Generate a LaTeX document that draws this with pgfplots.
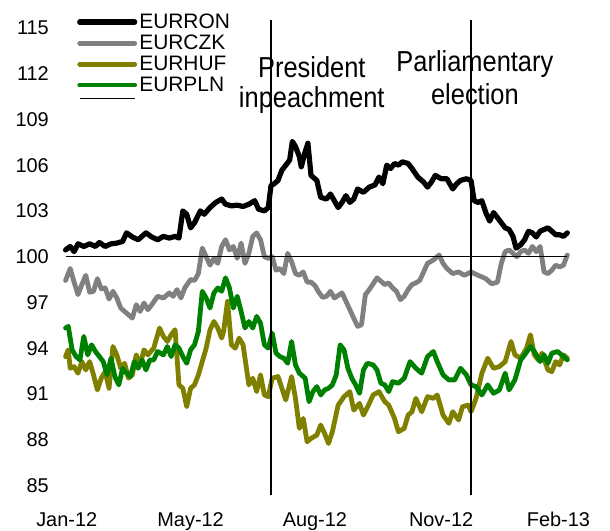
\documentclass[border=0pt]{standalone}
\usepackage{pgfplots}
\pgfplotsset{compat=1.18}
\usepackage{pgfplotstable}
\usepackage{fontspec}
\setmainfont{Liberation Sans}

\definecolor{czk}{RGB}{128,128,128}
\definecolor{huf}{RGB}{128,128,0}
\definecolor{pln}{RGB}{0,128,0}

% x = position along the time axis (category index scale), y = index value
\pgfplotstableread{
x y
168 100.44
180 100.67
190 100.33
200 100.84
215 100.67
230 100.84
245 100.67
255 100.93
270 100.67
285 100.84
300 100.89
315 101.00
325 101.56
340 101.29
355 101.11
375 101.56
390 101.29
405 101.11
420 101.33
435 101.22
450 101.33
460 101.22
470 103.00
480 102.78
490 101.89
500 102.22
515 103.00
525 102.78
540 103.22
555 103.56
570 103.78
580 103.44
595 103.33
610 103.38
625 103.29
640 103.44
655 103.67
665 103.11
680 103.00
690 103.22
697 104.67
705 104.78
715 105.00
725 105.67
735 106.00
745 106.33
752 107.56
760 107.22
770 106.56
775 105.89
785 106.89
792 107.44
800 105.33
815 105.00
825 103.89
840 103.78
850 104.11
860 103.67
870 103.22
880 103.56
890 104.00
900 103.56
910 103.78
920 104.44
935 104.22
950 104.56
965 104.71
975 105.22
985 104.78
995 106.00
1005 105.78
1015 106.11
1025 106.00
1035 106.22
1050 106.11
1060 105.78
1075 105.22
1090 104.89
1100 104.56
1110 104.89
1120 105.33
1135 105.11
1150 105.11
1165 104.44
1175 104.78
1185 105.00
1200 105.11
1212 105.00
1220 103.67
1230 103.56
1240 103.67
1250 102.89
1260 102.33
1270 102.89
1280 102.56
1290 102.22
1300 101.89
1310 101.78
1320 101.33
1328 100.56
1340 100.78
1350 101.11
1360 101.67
1370 101.56
1380 101.29
1390 101.67
1400 101.78
1410 101.89
1420 101.67
1430 101.44
1440 101.44
1450 101.33
1460 101.56
}\ron

\pgfplotstableread{
x y
168 98.44
180 99.22
190 98.33
200 97.51
210 98.17
220 98.78
230 97.67
240 97.73
250 98.56
260 97.89
270 97.95
280 97.22
290 97.73
300 97.29
310 96.63
320 96.41
330 96.19
340 95.97
350 96.85
360 96.41
370 96.96
380 96.52
390 96.85
405 97.40
420 97.29
435 97.62
445 97.40
455 97.84
465 97.29
475 97.95
490 98.50
500 98.44
510 98.89
520 100.56
530 100.00
540 99.44
550 99.89
560 99.56
570 100.67
580 101.11
590 100.44
600 100.67
610 99.89
620 100.89
630 99.56
640 100.22
650 101.33
660 101.56
670 101.11
680 100.00
690 99.89
700 100.00
710 99.11
720 99.22
730 98.89
740 100.22
750 99.67
760 98.89
770 98.78
780 99.00
790 98.33
800 98.33
810 98.11
820 97.67
830 97.33
840 97.40
850 97.73
860 97.29
880 97.62
890 97.07
900 96.52
910 95.97
920 95.43
930 95.54
940 97.51
950 97.84
970 98.61
990 98.17
1000 98.28
1010 97.95
1020 97.73
1030 97.18
1040 97.40
1050 97.84
1060 98.17
1070 98.28
1080 98.44
1100 99.56
1115 99.78
1130 100.11
1140 99.56
1150 99.22
1165 98.89
1180 99.00
1195 98.78
1212 99.00
1230 98.78
1250 98.56
1265 98.22
1280 98.33
1290 99.56
1300 100.33
1310 100.44
1320 100.22
1330 100.00
1340 100.33
1350 100.44
1360 100.22
1370 100.67
1380 100.33
1390 100.67
1400 99.00
1410 98.89
1420 99.11
1430 99.44
1440 99.33
1450 99.44
1460 100.11
}\czk

\pgfplotstableread{
x y
168 93.45
175 93.89
180 92.68
190 92.79
200 92.36
210 93.12
220 92.57
230 93.12
240 92.25
250 91.26
260 92.03
270 92.46
280 91.37
290 94.11
300 93.56
310 92.68
320 93.01
330 92.03
340 92.25
350 93.56
360 92.90
370 93.89
380 93.56
395 94.00
410 95.32
420 94.77
430 94.44
440 94.88
450 95.21
460 91.59
470 91.37
480 90.16
490 91.37
500 91.59
510 92.25
520 93.12
530 94.00
540 95.21
550 95.75
560 95.32
570 94.66
575 95.10
585 97.07
595 94.22
605 94.00
615 94.66
625 94.22
640 91.59
650 92.03
660 91.15
670 92.25
680 90.93
690 90.82
700 92.03
715 92.14
725 91.37
735 90.60
750 92.14
760 90.71
770 88.74
780 89.39
790 87.86
800 88.08
815 88.30
825 88.96
835 88.41
845 87.75
855 88.52
870 90.27
885 90.82
900 91.15
910 89.94
925 90.38
935 89.61
950 90.38
960 90.93
975 91.15
990 90.49
1000 90.27
1015 89.39
1025 88.52
1040 88.74
1050 89.61
1060 89.83
1070 90.71
1085 89.83
1100 90.82
1115 90.71
1125 90.93
1140 89.61
1155 89.07
1165 89.83
1180 89.29
1190 90.16
1205 90.27
1212 89.83
1225 90.71
1240 92.36
1255 93.34
1270 92.68
1285 92.79
1300 93.12
1315 94.44
1325 93.56
1340 93.34
1355 94.00
1365 94.88
1375 93.56
1385 93.23
1395 93.67
1410 92.57
1420 92.46
1430 93.12
1440 92.90
1450 93.56
1460 93.34
}\huf

\pgfplotstableread{
x y
168 95.32
175 95.43
185 93.89
195 93.45
205 93.23
215 94.77
225 93.56
235 94.22
245 93.78
255 93.45
265 93.12
275 92.25
285 93.34
295 92.14
305 91.59
315 92.68
325 92.36
335 92.14
345 93.12
355 92.68
365 93.23
375 92.57
385 93.23
395 93.23
405 93.78
420 93.56
430 94.11
440 93.45
450 94.22
460 94.00
470 93.45
480 93.01
490 93.89
500 94.22
510 95.10
520 97.73
530 97.29
540 96.63
550 97.62
560 97.95
570 97.73
580 98.61
590 97.95
600 96.63
610 97.40
620 96.41
630 95.32
640 95.75
650 95.32
660 96.08
670 95.64
680 94.22
690 94.00
700 94.99
710 93.67
720 93.45
730 93.34
740 93.01
750 94.44
760 92.90
770 92.36
785 92.03
795 90.49
805 91.15
815 91.48
825 90.93
835 91.26
845 91.37
855 91.59
865 92.25
875 94.22
885 93.89
895 92.68
905 92.03
915 91.59
925 91.04
935 92.57
945 93.01
960 92.90
970 92.57
980 91.70
990 91.59
1000 91.15
1010 91.81
1025 91.70
1040 92.03
1055 93.12
1070 92.68
1085 92.36
1100 93.45
1115 93.78
1125 93.12
1140 92.25
1155 91.92
1170 91.92
1185 92.68
1200 92.25
1212 91.59
1225 91.48
1240 90.93
1255 91.59
1270 91.04
1285 91.26
1300 92.36
1310 91.26
1325 91.92
1340 93.23
1350 93.56
1365 94.11
1375 93.78
1390 93.12
1400 93.56
1410 93.01
1420 93.67
1435 93.78
1450 93.45
1460 93.23
}\pln

\begin{document}
\begin{tikzpicture}
\begin{axis}[
    name=main,
    scale only axis,
    width=512bp, height=477bp,
    xmin=153.7, xmax=1472,
    ymin=84.24, ymax=115.52,
    axis line style={draw=none},
    major tick length=0pt,
    xtick={171,490,810,1135,1437},
    xticklabels={Jan-12,May-12,Aug-12,Nov-12,Feb-13},
    ytick={85,88,...,115},
    /pgf/number format/assume math mode=true,
    tick label style={font=\fontsize{20}{24}\selectfont},
    yticklabel style={anchor=east, inner sep=0pt, xshift=-11bp},
    xticklabel style={anchor=north, inner sep=0pt, yshift=-15bp},
    clip=false,
    legend style={at={(axis description cs:0.033,1.013)}, anchor=north west,
        draw=none, fill=none, inner sep=0pt,
        font=\fontsize{21}{21}\selectfont,
        row sep=5bp, /tikz/column sep=2bp,
        nodes={inner sep=0pt}},
    legend cell align=left,
    legend image code/.code={\draw[#1] (0bp,0bp) -- (55bp,0bp);},
    every axis plot/.append style={line join=round, line cap=round},
]
\addplot[black, line width=5.2bp] table {\ron};
\addlegendentry{EURRON}
\addplot[czk, line width=4.8bp] table {\czk};
\addlegendentry{EURCZK}
\addplot[huf, line width=4.8bp] table {\huf};
\addlegendentry{EURHUF}
\addplot[pln, line width=4.8bp] table {\pln};
\addlegendentry{EURPLN}
\addplot[black, line width=1.2bp, line cap=butt] coordinates {(168,100) (1460,100)};
\addlegendentry{}
\addplot[black, line width=2.2bp, line cap=butt, forget plot] coordinates {(697,84.37) (697,115.52)};
\addplot[black, line width=2.2bp, line cap=butt, forget plot] coordinates {(1212,84.37) (1212,115.52)};
\node[anchor=base, inner sep=0pt, font=\fontsize{29}{31}\selectfont] at (axis cs:802,111.78) {\scalebox{0.88}[1]{President}};
\node[anchor=base, inner sep=0pt, font=\fontsize{29}{31}\selectfont] at (axis cs:802,109.75) {\scalebox{0.88}[1]{inpeachment}};
\node[anchor=base, inner sep=0pt, font=\fontsize{29}{31}\selectfont] at (axis cs:1222,112.11) {\scalebox{0.88}[1]{Parliamentary}};
\node[anchor=base, inner sep=0pt, font=\fontsize{29}{31}\selectfont] at (axis cs:1222,109.95) {\scalebox{0.88}[1]{election}};
\end{axis}
\path (main.south west) ++(-60bp,-34bp) rectangle ++(610bp,531bp);
\end{tikzpicture}
\end{document}
